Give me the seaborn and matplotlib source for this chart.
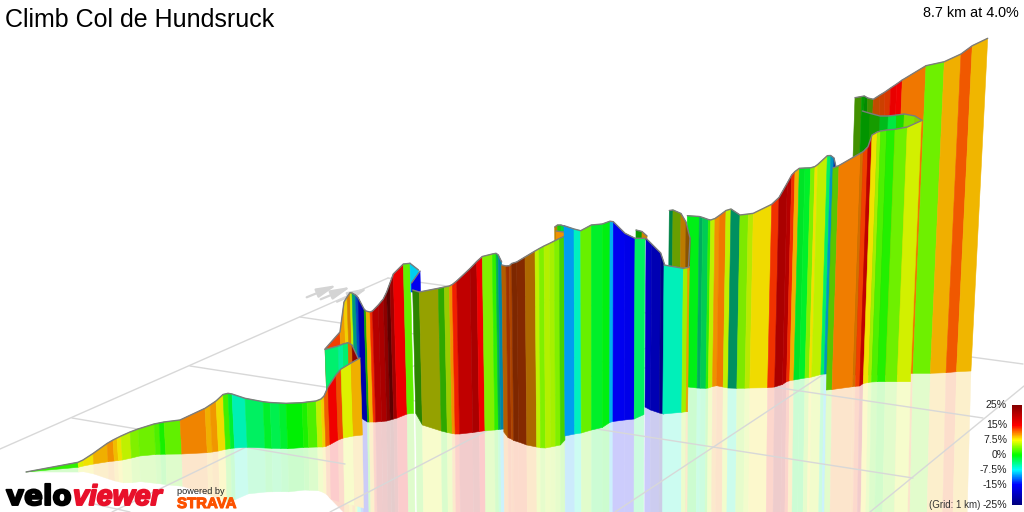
import numpy as np
import matplotlib
matplotlib.use("Agg")
import matplotlib.pyplot as plt
import matplotlib.patheffects as pe
from matplotlib.colors import LinearSegmentedColormap
import seaborn as sns

# gradient scale, same nodes as the legend bar
legend_ticks = [25, 15, 7.5, 0, -7.5, -15, -25]
legend_labels = ["25%", "15%", "7.5%", "0%", "-7.5%", "-15%", "-25%"]
scale_colors = ["#000080", "#0000ff", "#00ffff", "#00ff00", "#ffff00", "#ff0000", "#850000"]

# the ribbon, cut into pieces: x along the top edge, top and bottom of the wall, gradient of each stripe
near_x = [26, 78, 83, 93, 107, 113, 117, 121, 130, 138, 154, 159, 164, 180, 205, 210, 216, 223, 228, 232, 245, 263, 270, 279, 286, 302, 307, 316, 321, 324, 328, 336, 341, 351, 360]
near_top = [472, 462.3, 460, 453.5, 443.5, 440, 438, 436, 432, 429, 424, 423, 422, 420, 408.3, 405, 401, 394.5, 393.3, 394, 398.3, 401.7, 402.5, 403, 403.3, 402.7, 402, 401, 399, 396, 387, 375, 369, 363, 358]
near_bottom = [472, 467.3, 466, 464, 461.7, 461, 460.5, 460, 458, 456, 454.5, 454.3, 454.2, 454, 452.7, 452, 451, 449.3, 448.5, 448, 447.3, 448, 448.3, 448.5, 448.7, 447.5, 447.3, 447, 447, 446.5, 444.5, 440, 438, 436, 435]
near_grade = [1.5, 7, 8, 9.5, 10.5, 9, 8, 6, 4, 3.5, 2.5, 0.7, 3, 10.8, 9.5, 10.2, 8.2, 2, -1.5, -5.5, -3, -1.2, -2.5, -1.5, -0.1, 0.8, 2.5, 6, 8.5, 12, 15, 12.5, 7, 9.5]

back_x = [325, 338, 343, 348, 352, 358]
back_top = [349.5, 346, 344, 342.7, 345, 358]
back_bottom = [430, 430, 430, 430, 430, 430]
back_grade = [-3.5, -4.8, -3.5, 11, 23]
back_shade = [1, 1, 1, 0.9, 1]

far_x = [325, 340, 344, 347, 350, 352, 355.5, 358, 364, 366, 370, 372.5, 378.3, 383.3, 386.7, 390, 393.3, 403.3, 410]
far_top = [349, 332, 302, 297, 292.7, 293, 295, 297.5, 309, 311, 312, 311, 305, 299, 292, 283, 274, 264, 263.3]
far_bottom = [425, 425, 425, 425, 425, 425, 425, 418.5, 422, 422, 422, 422, 421.5, 421, 420, 419, 418, 414, 413.3]
far_grade = [13, 10, 8.5, 10.5, 6, -6, -12, -17, 1, 9.5, 13.5, 20, 21, 23.5, 25, 22, 15.3, 3]
far_shade = [1, 1, 1, 0.9, 1, 0.65, 0.8, 0.8, 0.7, 1, 1, 1, 1, 1, 0.75, 1, 1, 1]

fold_x = [410, 418.5]
fold_top = [263.3, 270]
fold_bottom = [292, 292]
fold_grade = [-8.5]

foldb_x = [411.5, 420]
foldb_top = [283, 271]
foldb_bottom = [292, 292]
foldb_grade = [-15]

mid_x = [412.7, 419.3, 438.3, 444.3, 449.3, 452.3, 456.7, 470, 476.7, 482.3, 492.3, 496, 498.3, 501.7]
mid_top = [290, 292, 288.3, 287, 286, 284.5, 281, 268.5, 261.5, 256.5, 254, 253.3, 255, 262]
mid_bottom = [413.3, 425, 431, 432.5, 433.5, 434, 434, 432.5, 431.5, 430.7, 430, 429.5, 429.3, 429]
mid_grade = [2.5, 7, 2, 5.5, 10.5, 14, 19, 21, 15, 4, 1.5, -3, -9]
mid_shade = [0.55, 0.67, 0.7, 0.85, 1, 1, 1, 1, 1, 1, 1, 0.75, 0.7]

brown_x = [501.7, 506, 509.3, 511.7, 516.7, 525, 535, 539, 544, 549.3, 554.3, 559.3, 564]
brown_top = [265, 266, 265.7, 263.5, 262, 257, 251, 248.7, 246, 243.5, 241, 238.5, 236.5]
brown_bottom = [432, 437.6, 439, 440.5, 442, 445, 447, 447.8, 448, 447, 446, 445, 440]
brown_grade = [11, 12.5, 12, 12.5, 12.5, 10.5, 6, 4, 5.5, 5.2, 4, 2.5]
brown_shade = [0.75, 0.65, 0.72, 0.52, 0.55, 0.72, 1, 1, 1, 1, 1, 0.88]

hook_x = [554.7, 557.5, 561, 564]
hook_top = [227, 225, 225, 226]
hook_bottom = [245, 243, 240, 237]
hook_grade = [9.5, 1, -2]
hook_shade = [0.75, 0.85, 0.9]

hook2_x = [556, 564]
hook2_top = [231, 232]
hook2_bottom = [243, 238]
hook2_grade = [10.5]

blue_x = [564, 574, 580.7, 591.3, 602.3, 610, 613.3, 625, 635, 645]
blue_top = [225.7, 229, 230.7, 225, 224, 221.2, 221.7, 233.3, 238.3, 238.3]
blue_bottom = [436, 434, 433, 430, 427.5, 422.5, 421.5, 420, 419, 414.5]
blue_grade = [-10, -6, 3.3, -1.3, -0.5, -9.5, -15, -15.5, -3]

tab_x = [636, 642, 647]
tab_top = [230, 231.5, 236]
tab_bottom = [240, 240, 240]
tab_grade = [0.5, 10]
tab_shade = [0.65, 0.85]

navy_x = [646, 651.7, 660.7, 665]
navy_top = [238.3, 244, 253, 266]
navy_bottom = [407, 410, 413, 414]
navy_grade = [-16, -20, -24]
navy_shade = [0.85, 1, 1]

teal_x = [664, 683.3, 687.7, 689.3]
teal_top = [265, 268.3, 267.5, 266.7]
teal_bottom = [414, 412.3, 411.7, 411.7]
teal_grade = [-5.8, 5, 10]

jag_x = [669.3, 673, 681, 686, 690, 688.5]
jag_top = [210.5, 210, 213.5, 222, 238, 267]
jag_bottom = [270, 270, 270, 270, 270, 270]
jag_grade = [-4, 5, 10, 10.5, 10.5]
jag_shade = [0.55, 0.66, 0.78, 0.58, 0.58]

long_x = [687.3, 699.3, 702.7, 708.3, 710.7, 715, 719.3, 726, 731, 740, 748.3, 753.3, 771.7, 779, 787.3, 791.7, 795, 799.3, 805, 810.7, 815, 817.7, 827.3, 830.7, 834, 836]
long_top = [215.7, 216.5, 217.5, 219.5, 220, 218.5, 215.5, 210.5, 209, 215, 214, 213.3, 204.3, 197.5, 183, 175, 171.5, 168.3, 168, 167.8, 166.5, 164.5, 155.7, 155.5, 158, 167]
long_bottom = [386.7, 388, 388.2, 388.3, 388, 386.5, 385.7, 387, 388, 388.3, 388.2, 388, 387.7, 387, 384.5, 381.7, 380.7, 380, 379, 378, 377.5, 377, 374.5, 374, 374, 374]
long_grade = [-0.7, -4, -3, 1.5, 6, 10.5, 11.3, 6, -5, 4, 6, 8.2, 13.3, 21, 20, 13.6, 9.5, -1.3, -1.3, 4, 8, 6, -3, -9, -13]
long_shade = [1, 0.72, 0.85, 1, 1, 1, 1, 1, 0.6, 0.97, 0.97, 1, 1, 1, 1, 1, 1, 0.95, 1, 1, 1, 1, 1, 0.8, 0.7]

upper_x = [855, 861.7, 864.3, 867.7, 873.3, 880, 885, 890.7, 896.7, 902.3]
upper_top = [97.7, 96.5, 96, 98, 99.3, 95, 92, 88, 84, 80]
upper_bottom = [375] * 10
upper_grade = [3.5, 0, 0, 3.5, 12, 12.5, 13, 15, 15]
upper_shade = [0.6, 0.65, 0.58, 0.6, 0.8, 0.85, 0.9, 0.97, 1]

last_x = [902.3, 926, 944.3, 961, 972.3, 987.7]
last_top = [80, 65.7, 61.7, 54, 45.7, 38.3]
last_bottom = [375, 373.3, 373.3, 372.7, 371.7, 371]
last_grade = [11.2, 3.4, 9.5, 12.3, 9.3]

band_x = [862.3, 870, 880, 888.3, 896.7, 904.3, 915, 922.3]
band_top = [111, 113.3, 116, 116, 115, 114, 116, 120.5]
band_bottom = [150, 146, 140, 138, 135, 133, 128, 121]
band_grade = [0, 1, -1, -2, 0.8, 4, 5]
band_shade = [0.62, 0.65, 0.78, 0.97, 0.9, 0.95, 0.85]

front_x = [833, 839, 860.7, 863.3, 868, 872, 877.3, 880.7, 886.7, 895, 907.3, 921.3]
front_top = [168, 165.5, 153, 151.5, 146.7, 135, 132, 131, 130, 129.3, 127, 120.7]
front_bottom = [390, 389.5, 386.7, 386.3, 386, 383.5, 382.5, 382, 381.7, 381.7, 381.7, 381.7]
front_grade = [3.5, 11, 11, 13, 19, 8, 5, 2.5, 1, 3.4, 6.5]
front_shade = [0.82, 1, 0.88, 1, 1, 1, 1, 1, 1, 1, 1]

# far to near, last flag = has a visible reflection
pieces = [
    (far_x, far_top, far_bottom, far_grade, far_shade, True),
    (fold_x, fold_top, fold_bottom, fold_grade, None, False),
    (foldb_x, foldb_top, foldb_bottom, foldb_grade, None, False),
    (back_x, back_top, back_bottom, back_grade, back_shade, False),
    (near_x, near_top, near_bottom, near_grade, None, True),
    (mid_x, mid_top, mid_bottom, mid_grade, mid_shade, True),
    (hook_x, hook_top, hook_bottom, hook_grade, hook_shade, False),
    (hook2_x, hook2_top, hook2_bottom, hook2_grade, None, False),
    (brown_x, brown_top, brown_bottom, brown_grade, brown_shade, True),
    (tab_x, tab_top, tab_bottom, tab_grade, tab_shade, False),
    (navy_x, navy_top, navy_bottom, navy_grade, navy_shade, True),
    (blue_x, blue_top, blue_bottom, blue_grade, None, True),
    (long_x, long_top, long_bottom, long_grade, long_shade, True),
    (jag_x, jag_top, jag_bottom, jag_grade, jag_shade, False),
    (teal_x, teal_top, teal_bottom, teal_grade, None, True),
    (upper_x, upper_top, upper_bottom, upper_grade, upper_shade, False),
    (last_x, last_top, last_bottom, last_grade, None, True),
    (band_x, band_top, band_bottom, band_grade, band_shade, False),
    (front_x, front_top, front_bottom, front_grade, front_shade, True),
]

# floor grid lines
grid_lines = [
    ((0, 449), (388, 278)), ((388, 278), (1023, 364)), ((300, 317), (983, 418)),
    ((190, 366), (913, 478)), ((72, 418), (345, 464)), ((112, 512), (550, 300)),
    ((330, 512), (700, 320)), ((615, 512), (880, 337)), ((870, 512), (1024, 386)),
    ((90, 503), (130, 512)),
]
wind_arrows = [((306.7, 297.3), (337, 285)), ((320.7, 299.3), (351, 286.7)), ((337, 301.7), (368, 288))]

sns.set_theme(style="white")
plt.rcParams["font.family"] = ["Liberation Sans", "DejaVu Sans"]

grade_cmap = LinearSegmentedColormap.from_list(
    "grade", list(zip([0, 0.2, 0.35, 0.5, 0.65, 0.8, 1], scale_colors)))


def grade_color(g, shade=1.0):
    return np.array(grade_cmap((g + 25) / 50)[:3]) * 0.94 * shade


def bottom_xs(x, top, bottom):
    # walls lean outwards from the middle of the view
    x, top, bottom = map(np.array, (x, top, bottom))
    return x - 1.3e-4 * (x - 600) * (bottom - top)


fig = plt.figure(figsize=(10.24, 5.12), dpi=100)
ax = fig.add_axes([0, 0, 1, 1])

for a, b in grid_lines:
    ax.plot([a[0], b[0]], [a[1], b[1]], color="#d8d8d8", lw=1.0, zorder=2.9)
for a, b in wind_arrows:
    ax.annotate("", xy=b, xytext=a, zorder=1,
                arrowprops=dict(arrowstyle="-|>,head_width=0.35,head_length=1.5", color="#d4d4d4",
                                lw=1.6, mutation_scale=8, shrinkA=0, shrinkB=0))

z = 3
for n, (x, top, bottom, grade, shade, reflects) in enumerate(pieces):
    xb = bottom_xs(x, top, bottom)
    if shade is None:
        shade = [1] * len(grade)
    for i, g in enumerate(grade):
        col = grade_color(g, shade[i])
        ax.fill([x[i], x[i + 1], xb[i + 1], xb[i]], [top[i], top[i + 1], bottom[i + 1], bottom[i]],
                color=col, lw=0.4, zorder=z)
        if reflects:
            # mirrored wall on the floor, very pale, nearer pieces cover farther ones
            ry0 = bottom[i] + 0.95 * (bottom[i] - top[i])
            ry1 = bottom[i + 1] + 0.95 * (bottom[i + 1] - top[i + 1])
            rx0 = xb[i] - 0.5 * (x[i] - xb[i])
            rx1 = xb[i + 1] - 0.5 * (x[i + 1] - xb[i + 1])
            pale = 1 - 0.2 * (1 - grade_color(g))
            ax.fill([xb[i], xb[i + 1], rx1, rx0], [bottom[i], bottom[i + 1], ry1, ry0],
                    color=pale, lw=0.3, zorder=2 + n / 100)
    sns.lineplot(x=list(x), y=list(top), sort=False, estimator=None, color="#7c7c7c", lw=1.0, ax=ax, zorder=z + 0.5)
    z += 1

ax.set_xlim(0, 1024)
ax.set_ylim(512, 0)
ax.axis("off")

ax.text(5, 20, "Climb Col de Hundsruck", fontsize=18, color="black", va="center", ha="left", zorder=50)
ax.text(1019, 13, "8.7 km at 4.0%", fontsize=10.4, color="black", va="center", ha="right", zorder=50)

# legend bar
levels = np.linspace(25, -25, 100).reshape(-1, 1)
cax = fig.add_axes([1012 / 1024, 1 - 505 / 512, 10 / 1024, 100 / 512])
sns.heatmap(levels, cmap=grade_cmap, vmin=-25, vmax=25, cbar=False, xticklabels=False, yticklabels=False, ax=cax)
for tick, label in zip(legend_ticks, legend_labels):
    ax.text(1007, 405 + (25 - tick) * 2, label, fontsize=7.6, color="#222222", ha="right", va="center", zorder=50)
ax.text(980, 505, "(Grid: 1 km)", fontsize=7, color="#333333", ha="right", va="center", zorder=50)

# logos
ax.text(6, 505, "velo", fontsize=20, fontweight="bold", family="DejaVu Sans", color="black", ha="left", va="baseline", zorder=50,
        path_effects=[pe.withStroke(linewidth=1.4, foreground="black")])
ax.text(73, 505, "viewer", fontsize=20.5, fontweight="bold", style="italic", color="#e8102a", ha="left", va="baseline", zorder=50,
        path_effects=[pe.withStroke(linewidth=1.4, foreground="#e8102a")])
ax.text(177, 492, "powered by", fontsize=6.6, color="#222222", ha="left", va="center", zorder=50)
ax.text(177, 504, "STRAVA", fontsize=10.8, fontweight="bold", color="#fc5200", ha="left", va="center", zorder=50,
        path_effects=[pe.withStroke(linewidth=0.8, foreground="#fc5200")])

fig.savefig("out.png", dpi=100)
